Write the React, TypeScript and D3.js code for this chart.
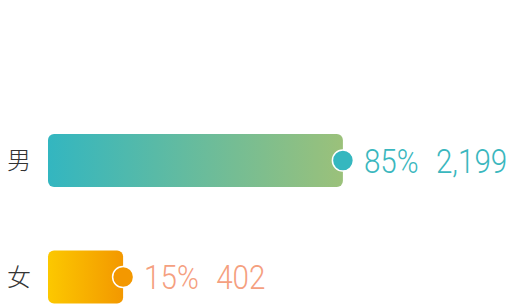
import React from 'react';
import * as d3 from 'd3';

const categories = ['男', '女'];
const percents = [85, 15];
const counts = [2199, 402];
const textColors = ['#3ab7be', '#f5a07f'];
const gradients = [
  ['#33b6c0', '#9bc17a'],
  ['#fcc800', '#f39800'],
];
const dotColors = ['#35b7bf', '#f39800'];

const width = 507;
const height = 305;

export default function App() {
  const barLeft = 48;
  const barH = 53;
  // bar length grows with the share, with a small base length
  const w = d3.scaleLinear().domain([0, 100]).range([28, 342]);
  const y = d3.scalePoint().domain(categories).range([160.5, 277]);
  const fmt = d3.format(',');

  return (
    <svg
      width={width}
      height={height}
      style={{ position: 'absolute', left: 0, top: 0, fontFamily: 'Roboto, "Noto Sans CJK SC", sans-serif' }}
    >
      <defs>
        {gradients.map((g, i) => (
          <linearGradient key={i} id={`grad${i}`} x1="0" x2="1" y1="0" y2="0">
            <stop offset="0%" stopColor={g[0]} />
            <stop offset="100%" stopColor={g[1]} />
          </linearGradient>
        ))}
      </defs>
      {categories.map((c, i) => {
        const cy = y(c) as number;
        const bw = w(percents[i]);
        const end = barLeft + bw;
        return (
          <g key={c}>
            <text
              x={7}
              y={cy}
              dy="0.36em"
              fontSize={24}
              fill="#333"
              fontFamily='"Noto Sans CJK SC", sans-serif'
              fontWeight={300}
            >
              {c}
            </text>
            <rect x={barLeft} y={cy - barH / 2} width={bw} height={barH} rx={6} fill={`url(#grad${i})`} />
            <circle cx={end} cy={cy} r={10.5} fill={dotColors[i]} stroke="#fff" strokeWidth={1.5} />
            <g transform={`translate(${end + 21},${cy}) scale(0.87,1)`}>
              <text y={0} dy="0.36em" fontSize={34} fontWeight={300} fill={textColors[i]}>
                {`${percents[i]}%`}
                <tspan dx={20}>{fmt(counts[i])}</tspan>
              </text>
            </g>
          </g>
        );
      })}
    </svg>
  );
}
